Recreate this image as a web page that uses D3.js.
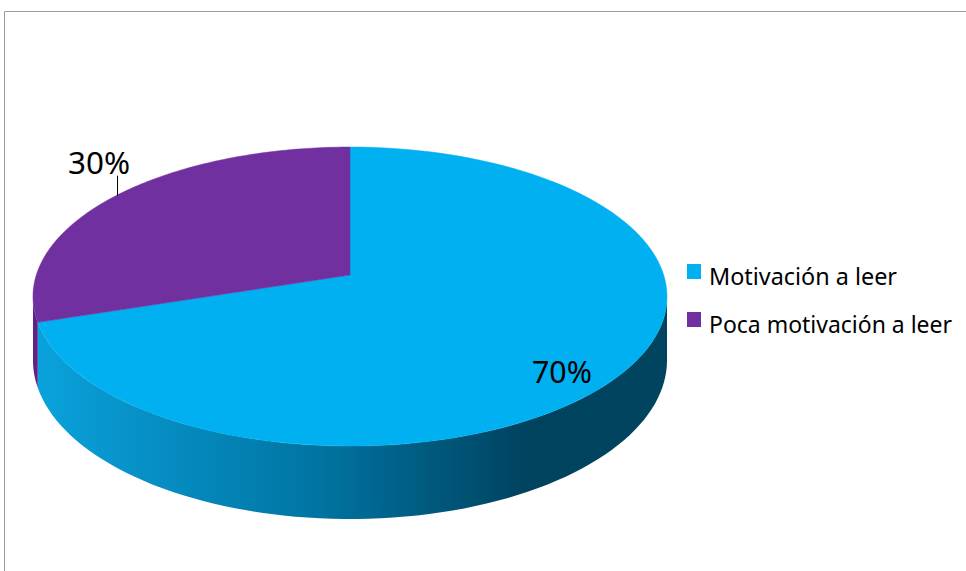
<!DOCTYPE html>
<html>
<head>
<meta charset="utf-8">
<script src="https://cdn.jsdelivr.net/npm/d3@7"></script>
<style>
  body { margin: 0; background: #fff; }
  svg { display: block; }
</style>
</head>
<body>
<svg id="chart"></svg>
<script>
'use strict';

const categories = ['Motivación a leer', 'Poca motivación a leer'];
const values = [70, 30];
const pctLabels = ['70%', '30%'];
const topColors = ['#00B0F0', '#7030A0'];

const width = 966;
const height = 571;

// 3d pie geometry (perspective tilt)
const cx = 350, cy = 275;
const rx = 313.7, ry = 146.4;
const persp = 0.144;
const depth = 62.5;

const svg = d3.select('#chart')
  .attr('width', width)
  .attr('height', height);

// frame
svg.append('path')
  .attr('d', `M4.5,${height} V11.5 H${width}`)
  .attr('fill', 'none')
  .attr('stroke', '#9c9c9c')
  .attr('stroke-width', 1);

// project angle (0 = top, clockwise) + radius fraction + drop to screen
function project(a, r = 1, drop = 0) {
  const u = Math.sin(a) * r;
  const v = -Math.cos(a) * r;
  const den = 1 - persp * v;
  return [cx + rx * u / den, cy + (ry * v + drop) / den];
}

const pie = d3.pie().sort(null).value(d => d)(values);
const line = d3.line();

const defs = svg.append('defs');
const gradStops = [
  [['0%', '#0aa2dc'], ['45%', '#0074a2'], ['78%', '#00435f'], ['100%', '#00445f']],
  [['0%', '#5c2487'], ['100%', '#3e1660']],
];
gradStops.forEach((stops, i) => {
  const g = defs.append('linearGradient')
    .attr('id', 'side' + i)
    .attr('gradientUnits', 'userSpaceOnUse')
    .attr('x1', cx - rx).attr('x2', cx + rx)
    .attr('y1', 0).attr('y2', 0);
  stops.forEach(s => g.append('stop').attr('offset', s[0]).attr('stop-color', s[1]));
});

// side wall is visible only on the front between the two silhouette points
const visA = Math.acos(-persp);
const visB = 2 * Math.PI - visA;

pie.forEach((d, i) => {
  const s0 = Math.max(d.startAngle, visA);
  const s1 = Math.min(d.endAngle, visB);
  if (s1 <= s0) return;
  const n = 80;
  const angs = d3.range(n + 1).map(j => s0 + (s1 - s0) * j / n);
  const pts = angs.map(a => project(a))
    .concat(angs.slice().reverse().map(a => project(a, 1, depth)));
  svg.append('path')
    .attr('d', line(pts) + 'Z')
    .attr('fill', `url(#side${i})`);
});

// top faces
pie.forEach((d, i) => {
  const n = 120;
  const pts = [[cx, cy]].concat(
    d3.range(n + 1).map(j => project(d.startAngle + (d.endAngle - d.startAngle) * j / n))
  );
  svg.append('path')
    .attr('d', line(pts) + 'Z')
    .attr('fill', topColors[i])
    .attr('stroke', topColors[i])
    .attr('stroke-width', 0.5);
});

// data labels
const labelFont = 'Noto Sans, Open Sans, sans-serif';
pie.forEach((d, i) => {
  const mid = (d.startAngle + d.endAngle) / 2;
  if (i === 0) {
    const p = project(mid, 0.78, depth * 0.38);
    svg.append('text')
      .attr('x', p[0]).attr('y', p[1] + 11)
      .attr('text-anchor', 'middle')
      .attr('font-family', labelFont)
      .attr('font-size', 31)
      .attr('textLength', 60)
      .attr('lengthAdjust', 'spacingAndGlyphs')
      .attr('fill', '#000')
      .text(pctLabels[i]);
  } else {
    const p = project(mid);
    svg.append('line')
      .attr('x1', p[0] + 1.5).attr('x2', p[0] + 1.5)
      .attr('y1', p[1]).attr('y2', p[1] - 20)
      .attr('stroke', '#000')
      .attr('stroke-width', 1);
    svg.append('text')
      .attr('x', p[0] - 17).attr('y', p[1] - 22)
      .attr('text-anchor', 'middle')
      .attr('font-family', labelFont)
      .attr('font-size', 31)
      .attr('textLength', 62)
      .attr('lengthAdjust', 'spacingAndGlyphs')
      .attr('fill', '#000')
      .text(pctLabels[i]);
  }
});

// legend
const legendWidths = [188, 243];
const legend = svg.append('g')
  .attr('transform', 'translate(687,264)');
const item = legend.selectAll('g')
  .data(categories)
  .enter()
  .append('g')
  .attr('transform', (d, i) => `translate(0,${i * 48})`);
item.append('rect')
  .attr('width', 14).attr('height', 15)
  .attr('fill', (d, i) => topColors[i]);
item.append('text')
  .attr('x', 22).attr('y', 21)
  .attr('font-family', labelFont)
  .attr('font-size', 23.5)
  .attr('textLength', (d, i) => legendWidths[i])
  .attr('lengthAdjust', 'spacingAndGlyphs')
  .attr('fill', '#000')
  .text(d => d);
</script>
</body>
</html>
